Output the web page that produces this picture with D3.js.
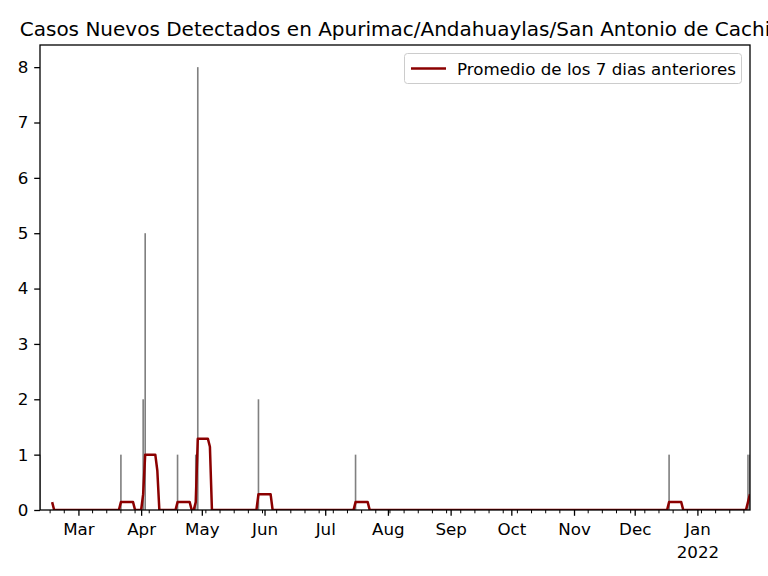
<!DOCTYPE html>
<html>
<head>
<meta charset="utf-8">
<script src="https://cdn.jsdelivr.net/npm/d3@7"></script>
<style>
  html, body { margin: 0; padding: 0; background: #fff; }
  svg { display: block; font-family: "DejaVu Sans", sans-serif; }
</style>
</head>
<body>
<svg id="chart" width="768" height="576"></svg>
<script>
// ---- Data ----
const titleText = "Casos Nuevos Detectados en Apurimac/Andahuaylas/San Antonio de Cachi";
const legendLabel = "Promedio de los 7 dias anteriores";
const dateRange = ["2021-02-10", "2022-01-27"];

// Daily new cases (only days with cases; all other days are 0)
const caseDates = ["2021-02-10", "2021-03-22", "2021-04-02", "2021-04-03", "2021-04-19",
                   "2021-04-28", "2021-04-29", "2021-05-29", "2021-07-16", "2021-12-18",
                   "2022-01-26", "2022-01-27"];
const caseValues = [1, 1, 2, 5, 1, 1, 8, 2, 1, 1, 1, 1];

// 7-day average line, given at its break points
const avgDates = ["2021-02-16", "2021-02-17", "2021-03-21", "2021-03-22", "2021-03-28", "2021-03-29",
                  "2021-04-01", "2021-04-02", "2021-04-03", "2021-04-08", "2021-04-09", "2021-04-10",
                  "2021-04-18", "2021-04-19", "2021-04-25", "2021-04-26", "2021-04-27", "2021-04-28",
                  "2021-04-29", "2021-05-04", "2021-05-05", "2021-05-06", "2021-05-28", "2021-05-29",
                  "2021-06-04", "2021-06-05", "2021-07-15", "2021-07-16", "2021-07-22", "2021-07-23",
                  "2021-12-17", "2021-12-18", "2021-12-24", "2021-12-25", "2022-01-25", "2022-01-26",
                  "2022-01-27"];
const avgValues = [0.143, 0, 0, 0.143, 0.143, 0,
                   0, 0.286, 1.0, 1.0, 0.714, 0,
                   0, 0.143, 0.143, 0, 0, 0.143,
                   1.286, 1.286, 1.143, 0, 0, 0.286,
                   0.286, 0, 0, 0.143, 0.143, 0,
                   0, 0.143, 0.143, 0, 0, 0.143,
                   0.286];

const yTicks = [0, 1, 2, 3, 4, 5, 6, 7, 8];
const yMax = 8.4;

// ---- Layout ----
const mL = 40, mR = 750, mT = 45, mB = 510;
const parse = d3.utcParse("%Y-%m-%d");
const svg = d3.select("#chart");

const x = d3.scaleUtc().domain(dateRange.map(parse)).range([mL, mR]);
const y = d3.scaleLinear().domain([0, yMax]).range([mB, mT]);
const dayPx = x(parse("2021-02-11")) - x(parse("2021-02-10"));

// Bars
const bars = caseDates.map((d, i) => ({ date: parse(d), value: caseValues[i] }));
svg.append("clipPath").attr("id", "plotclip")
  .append("rect").attr("x", mL).attr("y", mT).attr("width", mR - mL).attr("height", mB - mT);

const plot = svg.append("g").attr("clip-path", "url(#plotclip)");
plot.selectAll("rect.bar").data(bars).join("rect")
  .attr("class", "bar")
  .attr("x", d => x(d.date) - 0.4 * dayPx)
  .attr("width", 0.8 * dayPx)
  .attr("y", d => y(d.value))
  .attr("height", d => y(0) - y(d.value))
  .attr("fill", "#808080");

// Line
const avg = avgDates.map((d, i) => ({ date: parse(d), value: avgValues[i] }));
plot.append("path").datum(avg)
  .attr("fill", "none")
  .attr("stroke", "#8b0000")
  .attr("stroke-width", 2.5)
  .attr("stroke-linejoin", "round")
  .attr("d", d3.line().x(d => x(d.date)).y(d => y(d.value)));

// Axes
const monthTicks = d3.utcMonth.range(d3.utcMonth.ceil(x.domain()[0]), x.domain()[1]);
const fmtMonth = d3.utcFormat("%b");
const xAxis = d3.axisBottom(x).tickValues(monthTicks).tickSize(5.8).tickPadding(5.8).tickFormat(d => fmtMonth(d));
const gx = svg.append("g").attr("transform", `translate(0,${mB})`).call(xAxis);
gx.select(".domain").remove();
gx.selectAll(".tick line").attr("stroke", "#000").attr("stroke-width", 1.3);
gx.selectAll(".tick text")
  .attr("font-size", "16.7px").attr("fill", "#000")
  .attr("font-family", "DejaVu Sans")
  .attr("dy", null).attr("y", 25)
  .each(function(d) {
    if (d.getUTCMonth() === 0) {
      d3.select(this).append("tspan").attr("x", 0).attr("dy", 22.5).text(d.getUTCFullYear());
    }
  });

// minor ticks on Mondays (not on month starts)
const mondays = d3.utcMonday.range(x.domain()[0], d3.utcDay.offset(x.domain()[1], 1))
  .filter(d => d.getUTCDate() !== 1);
svg.append("g").selectAll("line").data(mondays).join("line")
  .attr("x1", d => x(d)).attr("x2", d => x(d))
  .attr("y1", mB).attr("y2", mB + 3.3)
  .attr("stroke", "#000").attr("stroke-width", 1);

const yAxis = d3.axisLeft(y).tickValues(yTicks).tickSize(5.8).tickPadding(5.8).tickFormat(d3.format("d"));
const gy = svg.append("g").attr("transform", `translate(${mL},0)`).call(yAxis);
gy.select(".domain").remove();
gy.selectAll(".tick line").attr("stroke", "#000").attr("stroke-width", 1.3);
gy.selectAll(".tick text").attr("font-size", "16.7px").attr("fill", "#000").attr("font-family", "DejaVu Sans");

// Frame
svg.append("rect").attr("x", mL).attr("y", mT).attr("width", mR - mL).attr("height", mB - mT)
  .attr("fill", "none").attr("stroke", "#000").attr("stroke-width", 1.3);

// Title
svg.append("text").attr("x", (mL + mR) / 2).attr("y", 35.5)
  .attr("text-anchor", "middle").attr("font-size", "20px").attr("fill", "#000")
  .text(titleText);

// Legend
const lg = svg.append("g");
lg.append("rect").attr("x", 404.5).attr("y", 53.5).attr("width", 337).attr("height", 30).attr("rx", 3)
  .attr("fill", "#fff").attr("fill-opacity", 0.8).attr("stroke", "#cccccc").attr("stroke-width", 1);
lg.append("line").attr("x1", 411).attr("x2", 446).attr("y1", 68.5).attr("y2", 68.5)
  .attr("stroke", "#8b0000").attr("stroke-width", 2.5);
lg.append("text").attr("x", 457).attr("y", 75).attr("font-size", "16.7px").attr("fill", "#000")
  .text(legendLabel);
</script>
</body>
</html>
